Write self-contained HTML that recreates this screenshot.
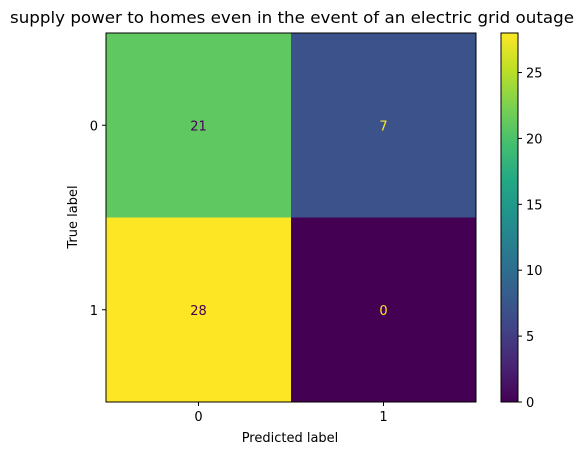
<!DOCTYPE html>
<html><head><meta charset="utf-8"><style>
body{margin:0;background:#fff;}
text{font-family:"DejaVu Sans","Liberation Sans",sans-serif;}
</style></head><body>
<svg id="c" width="580" height="455" xmlns="http://www.w3.org/2000/svg">
<defs>
<linearGradient id="vir" x1="0" y1="1" x2="0" y2="0">
<stop offset="0" stop-color="#440154"/><stop offset="0.1" stop-color="#482475"/>
<stop offset="0.2" stop-color="#414487"/><stop offset="0.3" stop-color="#355f8d"/>
<stop offset="0.4" stop-color="#2a788e"/><stop offset="0.5" stop-color="#21918c"/>
<stop offset="0.6" stop-color="#22a884"/><stop offset="0.7" stop-color="#44bf70"/>
<stop offset="0.8" stop-color="#7ad151"/><stop offset="0.9" stop-color="#bddf26"/>
<stop offset="1" stop-color="#fde725"/>
</linearGradient>
</defs>
<text x="292" y="23" font-size="16" text-anchor="middle" textLength="564" lengthAdjust="spacingAndGlyphs">supply power to homes even in the event of an electric grid outage</text>
<g id="cells"></g>
<rect x="106" y="33" width="370" height="369" fill="none" stroke="#000" stroke-width="1"/>
<text x="290" y="442" font-size="13" text-anchor="middle">Predicted label</text>
<text x="0" y="0" font-size="13" text-anchor="middle" transform="translate(77,217) rotate(-90)">True label</text>
<rect x="501" y="33" width="17" height="369" fill="url(#vir)" stroke="#000" stroke-width="1"/>
<g id="cb"></g>
</svg>
<script>
const classes=["0","1"];
const matrix=[[21,7],[28,0]];
const cbTicks=[0,5,10,15,20,25];
const vmin=0,vmax=28;
const stops=[[0,[68,1,84]],[0.1,[72,36,117]],[0.2,[65,68,135]],[0.3,[53,95,141]],[0.4,[42,120,142]],[0.5,[33,145,140]],[0.6,[34,168,132]],[0.7,[68,191,112]],[0.8,[122,209,81]],[0.9,[189,223,38]],[1,[253,231,37]]];
function vir(t){for(let i=1;i<stops.length;i++){if(t<=stops[i][0]){const a=stops[i-1],b=stops[i];const f=(t-a[0])/(b[0]-a[0]);return 'rgb('+a[1].map((v,k)=>Math.round(v+(b[1][k]-v)*f)).join(',')+')';}}return 'rgb(253,231,37)';}
const X0=106,Y0=33,W=370,H=369,n=classes.length,cw=W/n,ch=H/n;
const ns="http://www.w3.org/2000/svg";
const cells=document.getElementById('cells'),svg=document.getElementById('c'),cb=document.getElementById('cb');
function mk(tag,attrs,parent){const e=document.createElementNS(ns,tag);for(const k in attrs)e.setAttribute(k,attrs[k]);parent.appendChild(e);return e;}
matrix.forEach((row,i)=>row.forEach((v,j)=>{
 const t=(v-vmin)/(vmax-vmin);
 const r=mk('rect',{x:X0+j*cw,y:Y0+i*ch,width:cw,height:ch,fill:vir(t)},cells);
 
 
 const tx=mk('text',{x:X0+(j+0.5)*cw,y:Y0+(i+0.5)*ch+5,'font-size':13,'text-anchor':'middle',fill:t<0.5?'#fde725':'#440154'},cells);
 tx.textContent=v;
 
 
}));
classes.forEach((c,k)=>{
 const x=X0+(k+0.5)*cw;
 mk('line',{x1:x,x2:x,y1:Y0+H,y2:Y0+H+4,stroke:'#000'},svg);
 const tx=mk('text',{x:x,y:Y0+H+19,'font-size':13,'text-anchor':'middle'},svg);tx.textContent=c;
 
 
 const y=Y0+(k+0.5)*ch;
 mk('line',{x1:X0-4,x2:X0,y1:y,y2:y,stroke:'#000'},svg);
 const ty=mk('text',{x:X0-8,y:y+5,'font-size':13,'text-anchor':'end'},svg);ty.textContent=c;
 
 
});
cbTicks.forEach(v=>{
 const y=Y0+H-(v-vmin)/(vmax-vmin)*H;
 mk('line',{x1:518,x2:522,y1:y,y2:y,stroke:'#000'},cb);
 const t=mk('text',{x:526,y:y+5,'font-size':13},cb);t.textContent=v;
 
 
});
</script>
</body></html>
